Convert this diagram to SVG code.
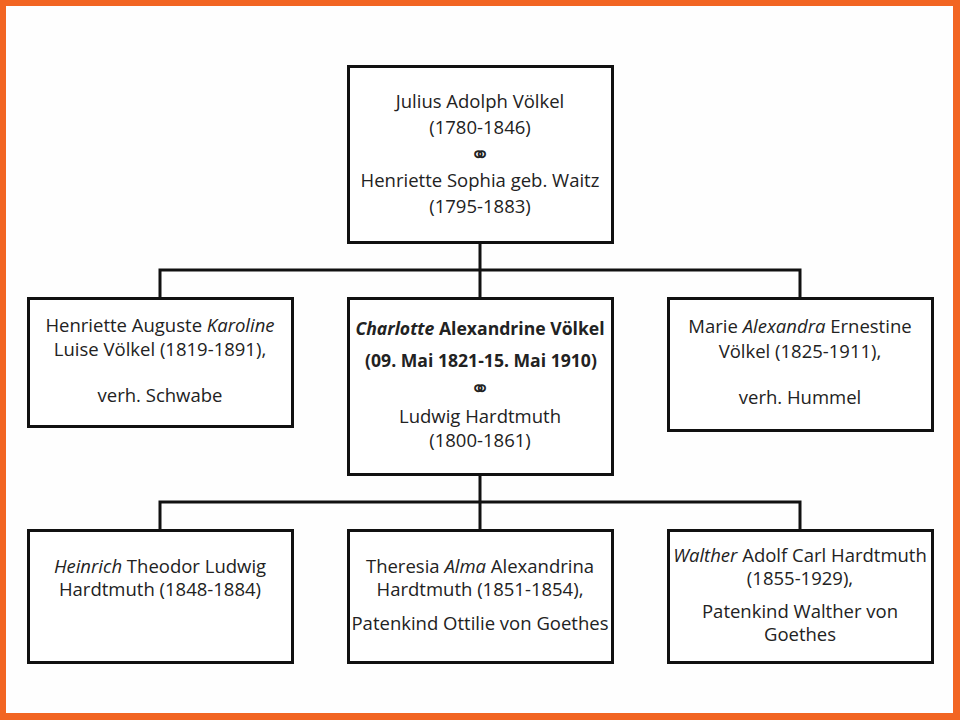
<svg xmlns="http://www.w3.org/2000/svg" width="960" height="720" viewBox="0 0 960 720">
<style>
.box{fill:#fff;stroke:#111;stroke-width:3}
.con{fill:none;stroke:#111;stroke-width:3}
text{font-family:"Open Sans","Liberation Sans",sans-serif;font-size:18.5px;fill:#222;text-anchor:middle}
.b{font-weight:bold;font-size:17.6px}
.i{font-style:italic}
.ring{font-family:"DejaVu Sans",sans-serif;font-size:24px}
</style>
<rect x="0" y="0" width="960" height="720" fill="#f26522"/>
<rect x="6" y="6" width="947" height="707" fill="#fefefe"/>
<g id="connectors">
<path class="con" d="M480,242V270M160,298V270H800V298M480,270V298"/>
<path class="con" d="M480,474V502M160,530V502H800V530M480,502V530"/>
</g>
<g id="n_julius">
<rect class="box" x="348.5" y="66.5" width="264" height="176"/>
<text x="480" y="108">Julius Adolph Völkel</text>
<text x="480" y="134">(1780-1846)</text>
<text class="ring" x="480" y="163">⚭</text>
<text x="480" y="187">Henriette Sophia geb. Waitz</text>
<text x="480" y="213">(1795-1883)</text>
</g>
<g id="n_karoline">
<rect class="box" x="28.5" y="298.5" width="264" height="128"/>
<text x="160" y="332">Henriette Auguste <tspan class="i">Karoline</tspan></text>
<text x="160" y="356">Luise Völkel (1819-1891),</text>
<text x="160" y="402">verh. Schwabe</text>
</g>
<g id="n_charlotte">
<rect class="box" x="348.5" y="298.5" width="264" height="176"/>
<text class="b" x="480" y="335"><tspan class="i">Charlotte</tspan> Alexandrine Völkel</text>
<text class="b" x="481" y="367">(09. Mai 1821-15. Mai 1910)</text>
<text class="ring" x="480" y="397">⚭</text>
<text x="480" y="423">Ludwig Hardtmuth</text>
<text x="480" y="447">(1800-1861)</text>
</g>
<g id="n_alexandra">
<rect class="box" x="668.5" y="298.5" width="264" height="132"/>
<text x="800" y="333">Marie <tspan class="i">Alexandra</tspan> Ernestine</text>
<text x="800" y="358">Völkel (1825-1911),</text>
<text x="800" y="404">verh. Hummel</text>
</g>
<g id="n_heinrich">
<rect class="box" x="28.5" y="530.5" width="264" height="132"/>
<text x="160" y="573"><tspan class="i">Heinrich</tspan> Theodor Ludwig</text>
<text x="160" y="596">Hardtmuth (1848-1884)</text>
</g>
<g id="n_alma">
<rect class="box" x="348.5" y="530.5" width="264" height="132"/>
<text x="480" y="573">Theresia <tspan class="i">Alma</tspan> Alexandrina</text>
<text x="480" y="596">Hardtmuth (1851-1854),</text>
<text x="480" y="630">Patenkind Ottilie von Goethes</text>
</g>
<g id="n_walther">
<rect class="box" x="668.5" y="530.5" width="264" height="132"/>
<text x="800" y="562"><tspan class="i">Walther</tspan> Adolf Carl Hardtmuth</text>
<text x="800" y="585">(1855-1929),</text>
<text x="800" y="618">Patenkind Walther von</text>
<text x="800" y="641">Goethes</text>
</g>
</svg>
